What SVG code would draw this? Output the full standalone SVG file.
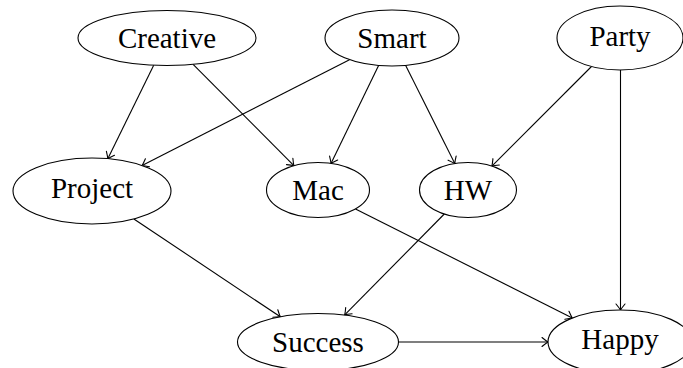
<svg xmlns="http://www.w3.org/2000/svg" width="683" height="368" viewBox="0 0 683 368">
<style>
  .node ellipse { fill: #ffffff; stroke: #000000; stroke-width: 1.1; }
  .node text { font-family: "Liberation Serif", "Times New Roman", serif; font-size: 29px; fill: #000000; text-anchor: middle; }
  .edges line { stroke: #000000; stroke-width: 1.1; fill: none; marker-end: url(#arrow); }
</style>
<defs>
  <marker id="arrow" markerUnits="userSpaceOnUse" viewBox="-8 -6 10 12" refX="0" refY="0" markerWidth="10" markerHeight="12" orient="auto" overflow="visible">
    <path d="M -6 -4.5 Q -2 -1.2 0 0 Q -2 1.2 -6 4.5" fill="none" stroke="#000000" stroke-width="1.1" stroke-linecap="round"/>
  </marker>
</defs>
<rect x="0" y="0" width="683" height="368" fill="#ffffff"/>
<g id="edges" class="edges">
  <line x1="153.7" y1="65.2" x2="107.8" y2="158.7"/>
  <line x1="193.1" y1="64.3" x2="293.9" y2="165.7"/>
  <line x1="349.5" y1="59.7" x2="142.1" y2="165.5"/>
  <line x1="378.6" y1="65.4" x2="331.0" y2="163.4"/>
  <line x1="405.7" y1="65.4" x2="454.8" y2="163.5"/>
  <line x1="591.5" y1="66.5" x2="491.9" y2="166.1"/>
  <line x1="620.5" y1="70" x2="620.5" y2="310"/>
  <line x1="133.9" y1="219.0" x2="280.3" y2="316.8"/>
  <line x1="355.5" y1="208.9" x2="572.3" y2="318.0"/>
  <line x1="444.3" y1="214.0" x2="344.7" y2="314.9"/>
  <line x1="398.5" y1="342" x2="548" y2="342"/>
</g>
<g id="creative" class="node">
  <ellipse cx="167" cy="38" rx="89" ry="27.5"/>
  <text x="167" y="48">Creative</text>
</g>
<g id="smart" class="node">
  <ellipse cx="392" cy="38" rx="67" ry="28"/>
  <text x="392" y="48">Smart</text>
</g>
<g id="party" class="node">
  <ellipse cx="620" cy="38" rx="63" ry="32"/>
  <text x="620" y="45.5">Party</text>
</g>
<g id="project" class="node">
  <ellipse cx="92" cy="191" rx="79" ry="33"/>
  <text x="92" y="197.5">Project</text>
</g>
<g id="mac" class="node">
  <ellipse cx="318" cy="190" rx="51.5" ry="27.5"/>
  <text x="318" y="200">Mac</text>
</g>
<g id="hw" class="node">
  <ellipse cx="468" cy="190" rx="48.5" ry="27.5"/>
  <text x="468" y="200">HW</text>
</g>
<g id="success" class="node">
  <ellipse cx="318" cy="342" rx="80.5" ry="28.5"/>
  <text x="318" y="352">Success</text>
</g>
<g id="happy" class="node">
  <ellipse cx="620" cy="342" rx="72" ry="32"/>
  <text x="620" y="349">Happy</text>
</g>
</svg>
